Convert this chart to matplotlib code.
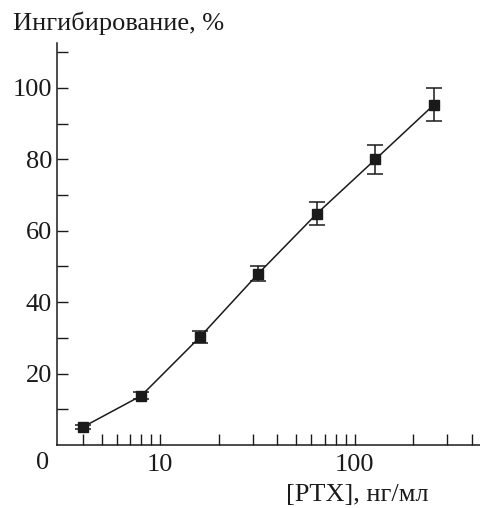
import matplotlib
matplotlib.use("Agg")
import matplotlib.pyplot as plt
from matplotlib.ticker import FixedLocator, NullFormatter

conc = [4, 8, 16, 32, 64, 128, 256]
inhib = [5.0, 13.8, 30.2, 48.0, 64.8, 80.0, 95.3]
err = [0.6, 1.0, 1.6, 2.2, 3.1, 4.0, 4.7]

major_x = [10, 100]
major_x_labels = ["10", "100"]
minor_x = [4, 5, 6, 7, 8, 9, 20, 30, 40, 50, 60, 70, 80, 90, 200, 300, 400]
major_y = [20, 40, 60, 80, 100]
minor_y = [10, 30, 50, 70, 90, 110]

plt.rcParams['font.family'] = ['Liberation Serif', 'DejaVu Serif']
fig = plt.figure(figsize=(4.81, 5.08), dpi=100)
ax = fig.add_axes([0.1185, 0.124, 0.879, 0.791])

col = '#1a1a1a'
fs = 19
ax.errorbar(conc, inhib, yerr=err, fmt='s', color=col, ms=6.5, mfc=col, mec=col,
            ecolor=col, elinewidth=1.1, capsize=6, capthick=1.1, ls='-', lw=1.1, zorder=3)

ax.set_xscale('log')
ax.set_xlim(2.95, 440)
ax.set_ylim(0, 112.5)

ax.spines['top'].set_visible(False)
ax.spines['right'].set_visible(False)
for s in ['left', 'bottom']:
    ax.spines[s].set_linewidth(1.1)
    ax.spines[s].set_color(col)

ax.xaxis.set_major_locator(FixedLocator(major_x))
ax.set_xticklabels(major_x_labels)
ax.xaxis.set_minor_locator(FixedLocator(minor_x))
ax.xaxis.set_minor_formatter(NullFormatter())
ax.yaxis.set_major_locator(FixedLocator(major_y))
ax.yaxis.set_minor_locator(FixedLocator(minor_y))

ax.tick_params(axis='both', which='both', direction='in', length=8, width=1.0, color=col,
               labelsize=fs, labelcolor=col)
ax.tick_params(axis='x', which='major', pad=6.5)
ax.tick_params(axis='y', which='major', pad=3.5)

ax.text(-0.035, -0.0185, "0", transform=ax.transAxes, ha='center', va='top', fontsize=fs, color=col)

fig.text(0.027, 0.955, "Ингибирование, %", fontsize=fs, color=col, ha='left', va='center')
fig.text(0.742, 0.026, "[PTX], нг/мл", fontsize=fs, color=col, ha='center', va='center')

fig.savefig("out.png", dpi=100)
